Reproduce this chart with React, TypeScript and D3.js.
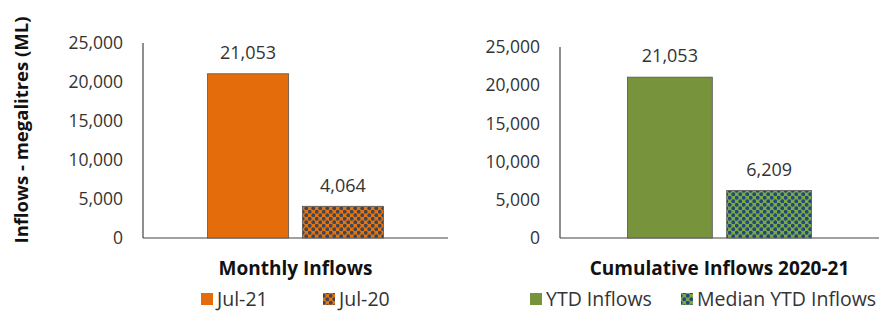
import React from 'react';
import * as d3 from 'd3';

// chart data
const monthlyCats = ['Jul-21', 'Jul-20'];
const monthlyVals = [21053, 4064];
const cumulativeCats = ['YTD Inflows', 'Median YTD Inflows'];
const cumulativeVals = [21053, 6209];
const yTicks = [0, 5000, 10000, 15000, 20000, 25000];

const W = 892;
const H = 311;
const FONT = '"Open Sans", "Liberation Sans", sans-serif';
const fmt = d3.format(',');

type PanelProps = {
  cats: string[];
  vals: number[];
  x0: number;
  x1: number;
  yTop: number;
  yBottom: number;
  title: string;
  fills: string[];
  legendX: number[];
};

function Panel(props: PanelProps) {
  const { cats, vals, x0, x1, yTop, yBottom, title, fills, legendX } = props;
  const y = d3.scaleLinear().domain([0, 25000]).range([yBottom, yTop]);
  const x = d3.scaleBand<string>().domain(cats).range([x0, x1])
    .paddingInner(0.145).paddingOuter(0.68);

  return (
    <g>
      {/* y axis line + baseline */}
      <line x1={x0} x2={x0} y1={yTop} y2={yBottom} stroke="#444" strokeWidth={1.2} />
      <line x1={x0} x2={x1} y1={yBottom} y2={yBottom} stroke="#444" strokeWidth={1.2} />
      {yTicks.map(t => (
        <text key={t} x={x0 - 20} y={y(t)} dy="0.35em" textAnchor="end"
          fontSize={17.5} fill="#333">{fmt(t)}</text>
      ))}
      {cats.map((c, i) => (
        <g key={c}>
          <rect x={x(c)} y={y(vals[i])} width={x.bandwidth()} height={yBottom - y(vals[i])}
            fill={fills[i]} stroke="#555" strokeWidth={0.8} />
          <text x={(x(c) as number) + x.bandwidth() / 2} y={y(vals[i]) - 21}
            dy="0.35em" textAnchor="middle" fontSize={18} fill="#333">{fmt(vals[i])}</text>
        </g>
      ))}
      <text x={x(cats[0])! + x.bandwidth() + (x.step() - x.bandwidth()) / 2} y={268}
        dy="0.35em" textAnchor="middle" fontSize={19} fontWeight="bold" fill="#111">{title}</text>
      {cats.map((c, i) => (
        <g key={'lg' + c}>
          <rect x={legendX[i]} y={293} width={12} height={12} fill={fills[i]} />
          <text x={legendX[i] + 16} y={299} dy="0.36em" fontSize={19.5} fill="#333">{c}</text>
        </g>
      ))}
    </g>
  );
}

export default function App() {
  return (
    <svg width={W} height={H} style={{ display: 'block', position: 'absolute', left: 0, top: 0 }}
      fontFamily={FONT}>
      <defs>
        <pattern id="pOrange" width={7} height={7} patternUnits="userSpaceOnUse">
          <rect width={7} height={7} fill="#E5740F" />
          <circle cx={1.75} cy={1.75} r={1.9} fill="#3F4756" />
          <circle cx={5.25} cy={5.25} r={1.9} fill="#3F4756" />
        </pattern>
        <pattern id="pGreen" width={7} height={7} patternUnits="userSpaceOnUse">
          <rect width={7} height={7} fill="#7EA848" />
          <circle cx={1.75} cy={1.75} r={1.9} fill="#1F4A7A" />
          <circle cx={5.25} cy={5.25} r={1.9} fill="#1F4A7A" />
        </pattern>
      </defs>
      <rect width={W} height={H} fill="#fff" />
      <text transform="translate(28,130) rotate(-90)" textAnchor="middle" fontSize={18.5}
        fontWeight="bold" fill="#111">Inflows - megalitres (ML)</text>
      <Panel cats={monthlyCats} vals={monthlyVals} x0={143} x1={448} yTop={43} yBottom={238}
        title="Monthly Inflows" fills={['#E46C0A', 'url(#pOrange)']} legendX={[201, 323]} />
      <Panel cats={cumulativeCats} vals={cumulativeVals} x0={560} x1={879} yTop={47} yBottom={238}
        title="Cumulative Inflows 2020-21" fills={['#77933C', 'url(#pGreen)']} legendX={[530, 681]} />
    </svg>
  );
}
